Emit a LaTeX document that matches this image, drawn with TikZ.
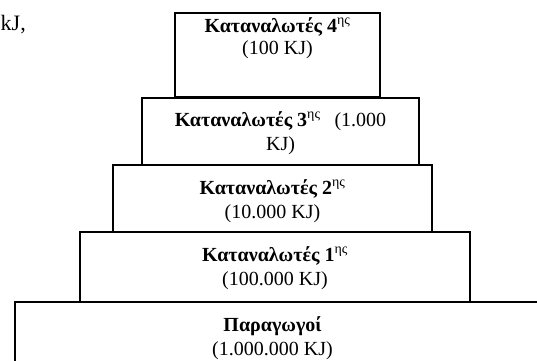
\documentclass[tikz,border=0pt]{standalone}
\usepackage{fontspec}
\setmainfont{Liberation Serif}
\usetikzlibrary{positioning}

\begin{document}
\begin{tikzpicture}[
    x=1pt, y=-1pt,
    lvl/.style={draw, line width=1.6pt, inner sep=0pt},
    lbl/.style={align=center, inner sep=0pt, font=\fontsize{20}{24}\selectfont}
]
    \clip (0,0) rectangle (537,360);
    % Levels (bottom to top)
        \node [lvl, minimum width=545, minimum height=80] (prod) at (287.5,342) {};
        \node [lvl, minimum width=390, minimum height=70] (cons1) at (275,267) {};
        \node [lvl, minimum width=319, minimum height=67] (cons2) at (272.5,198.5) {};
        \node [lvl, minimum width=277, minimum height=67] (cons3) at (280.5,131.5) {};
        \node [lvl, minimum width=205, minimum height=84] (cons4) at (277.5,55) {};

        % Labels
        \node [lbl, below=15pt of prod.north, xshift=-15pt] (tprod) {\textbf{Παραγωγοί}\\(1.000.000 KJ)};
        \node [lbl, below=15pt of cons1.north] (tcons1) {\textbf{Καταναλωτές 1}\textsuperscript{ης}\\(100.000 KJ)};
        \node [lbl, below=15pt of cons2.north] (tcons2) {\textbf{Καταναλωτές 2}\textsuperscript{ης}\\(10.000 KJ)};
        \node [lbl, below=14pt of cons3.north] (tcons3) {\textbf{Καταναλωτές 3}\textsuperscript{ης}\hspace{0.7em}(1.000\\KJ)};
        \node [lbl, below=5pt of cons4.north] (tcons4) {\textbf{Καταναλωτές 4}\textsuperscript{ης}\\[-2pt](100 KJ)};

        % Cut-off text at top left
        \node [lbl, font=\fontsize{22}{26}\selectfont, anchor=base east] (kj) at (26,30) {kJ,};
\end{tikzpicture}
\end{document}
